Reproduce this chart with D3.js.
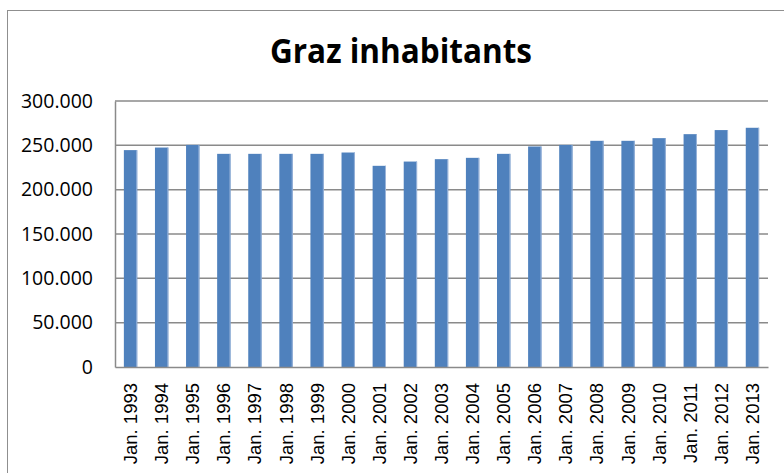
<!DOCTYPE html>
<html lang="en">
<head>
  <meta charset="UTF-8">
  <title>Graz inhabitants</title>
  <script src="https://d3js.org/d3.v7.min.js"></script>
  <style>
    body { margin: 0; background: #fff; }
  </style>
</head>
<body>

<script>

  // Data
  const years = ["Jan. 1993", "Jan. 1994", "Jan. 1995", "Jan. 1996", "Jan. 1997", "Jan. 1998", "Jan. 1999",
                 "Jan. 2000", "Jan. 2001", "Jan. 2002", "Jan. 2003", "Jan. 2004", "Jan. 2005", "Jan. 2006",
                 "Jan. 2007", "Jan. 2008", "Jan. 2009", "Jan. 2010", "Jan. 2011", "Jan. 2012", "Jan. 2013"];
  const inhabitants = [244600, 247500, 250500, 240400, 240400, 240400, 240400,
                       241900, 226900, 231700, 234400, 235900, 240400, 248700,
                       250500, 255100, 255100, 258100, 262600, 267200, 269800];
  const yTicks = [0, 50000, 100000, 150000, 200000, 250000, 300000];
  const titleText = "Graz inhabitants";

  const width = 784;
  const height = 473;
  const plot = { left: 115, right: 768, top: 101, bottom: 367 };

  const svg = d3.select("body")
    .append("svg")
    .attr("width", width)
    .attr("height", height);

  // outer chart frame
  svg.append("rect")
    .attr("x", 7.5)
    .attr("y", 10.5)
    .attr("width", 820)
    .attr("height", 520)
    .style("fill", "none")
    .style("stroke", "#8f8f8f");

  // Escalas
  const x = d3.scaleBand()
    .domain(years)
    .range([plot.left, plot.right])
    .paddingInner(0.57)
    .paddingOuter(0.285);

  const y = d3.scaleLinear()
    .domain([0, 300000])
    .range([plot.bottom, plot.top]);

  const locale = d3.formatLocale({ decimal: ",", thousands: ".", grouping: [3], currency: ["", "€"] });
  const fmt = locale.format(",d");

  // gridlines
  svg.append("g")
    .selectAll("line")
    .data(yTicks.filter(d => d > 0))
    .enter()
    .append("line")
    .attr("x1", plot.left)
    .attr("x2", plot.right)
    .attr("y1", d => y(d))
    .attr("y2", d => y(d))
    .style("stroke", "#8a8a8a")
    .style("stroke-width", 1.5);

  // bars
  svg.append("g")
    .selectAll("rect")
    .data(inhabitants)
    .enter()
    .append("rect")
    .attr("x", (d, i) => x(years[i]))
    .attr("y", d => y(d))
    .attr("width", x.bandwidth())
    .attr("height", d => y(0) - y(d))
    .style("fill", "#4f81bd");

  // light edge on the right of each bar
  svg.append("g")
    .selectAll("line")
    .data(inhabitants)
    .enter()
    .append("line")
    .attr("x1", (d, i) => x(years[i]) + x.bandwidth() - 0.5)
    .attr("x2", (d, i) => x(years[i]) + x.bandwidth() - 0.5)
    .attr("y1", d => y(d))
    .attr("y2", y(0))
    .style("stroke", "#9bb5da")
    .style("stroke-width", 1);

  // Eixo Y
  const yAxis = svg.append("g")
    .attr("transform", `translate(${plot.left}, 0)`)
    .call(d3.axisLeft(y).tickValues(yTicks).tickFormat(fmt).tickSize(0).tickPadding(22));
  yAxis.select(".domain").style("stroke", "#8a8a8a").style("stroke-width", 1.5);
  yAxis.selectAll("text")
    .style("font-family", "'Open Sans', sans-serif")
    .style("font-size", "19.5px")
    .style("fill", "#000");

  // Eixo X
  const xAxis = svg.append("g")
    .attr("transform", `translate(0, ${plot.bottom})`)
    .call(d3.axisBottom(x).tickSize(0));
  xAxis.select(".domain").style("stroke", "#8a8a8a").style("stroke-width", 1.5);
  xAxis.selectAll("text")
    .attr("transform", "rotate(-90)")
    .attr("x", -16)
    .attr("y", 0)
    .attr("dy", "0.35em")
    .style("text-anchor", "end")
    .style("font-family", "'Liberation Sans', Arial, sans-serif")
    .style("font-size", "18.5px")
    .style("fill", "#000");

  // title
  svg.append("text")
    .attr("x", 401)
    .attr("y", 63)
    .attr("text-anchor", "middle")
    .attr("textLength", 262)
    .attr("lengthAdjust", "spacingAndGlyphs")
    .style("font-family", "'Open Sans', sans-serif")
    .style("font-weight", "bold")
    .style("font-size", "34px")
    .text(titleText);

</script>

</body>
</html>
